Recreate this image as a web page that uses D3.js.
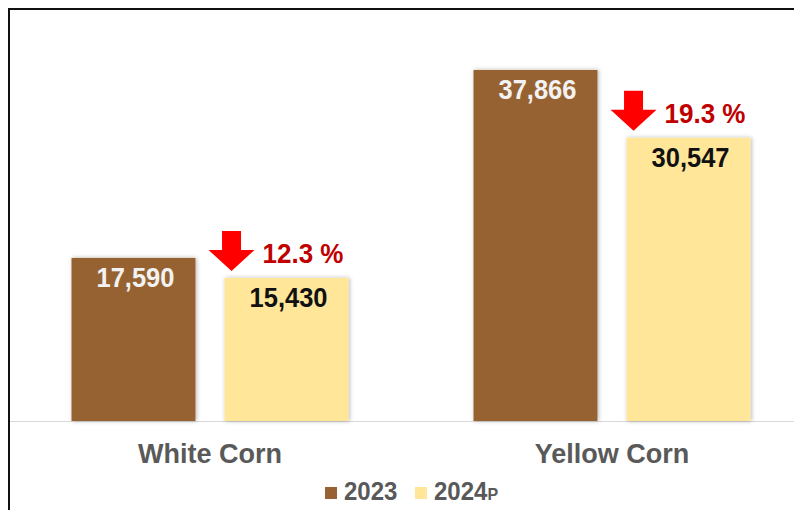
<!doctype html>
<html>
<head>
<meta charset="utf-8">
<script src="https://d3js.org/d3.v7.min.js"></script>
<style>
  body { margin: 0; background: #fff; }
  text { font-family: "Liberation Sans", Arial, sans-serif; font-weight: bold; }
</style>
</head>
<body>
<svg width="794" height="510"></svg>
<script>
var categories = ["White Corn", "Yellow Corn"];
var series = ["2023", "2024"];
var values2023 = [17590, 37866];
var values2024 = [15430, 30547];
var changeLabels = ["12.3 %", "19.3 %"];

var svg = d3.select("svg");
var colors = { "2023": "#976233", "2024": "#ffe699" };

var defs = svg.append("defs");
var f = defs.append("filter").attr("id", "shadow")
  .attr("x", "-10%").attr("y", "-10%").attr("width", "120%").attr("height", "120%");
f.append("feDropShadow").attr("dx", 1).attr("dy", 0).attr("stdDeviation", 2)
  .attr("flood-color", "#000").attr("flood-opacity", 0.3);

// frame
svg.append("rect").attr("x", 9).attr("y", 9).attr("width", 900).attr("height", 600)
  .attr("fill", "none").attr("stroke", "#111").attr("stroke-width", 2);

var x0 = d3.scaleBand().domain(categories).range([9, 813])
  .paddingInner(0.311).paddingOuter(0.1555);
var x1 = d3.scaleBand().domain(series).range([0, x0.bandwidth()]).paddingInner(0.19);
var y = d3.scaleLinear().domain([0, 40000]).range([421, 50.2]);

var rows = categories.map(function (c, i) {
  return { cat: c, vals: [{ s: "2023", v: values2023[i] }, { s: "2024", v: values2024[i] }], change: changeLabels[i] };
});

// stretched text helper (reference text is a bit taller than normal)
function stretched(sel, x, y, sx, sy) {
  return sel.append("g").attr("transform", "translate(" + x + "," + y + ") scale(" + sx + "," + sy + ")")
    .append("text").attr("x", 0).attr("y", 0);
}

// axis line
svg.append("line").attr("x1", 10).attr("x2", 794).attr("y1", y(0) + 0.5).attr("y2", y(0) + 0.5)
  .attr("stroke", "#d9d9d9").attr("stroke-width", 1);

var groups = svg.selectAll("g.cat").data(rows).enter().append("g")
  .attr("class", "cat")
  .attr("transform", function (d) { return "translate(" + x0(d.cat) + ",0)"; });

groups.selectAll("rect").data(function (d) { return d.vals; }).enter().append("rect")
  .attr("x", function (d) { return x1(d.s); })
  .attr("y", function (d) { return y(d.v); })
  .attr("width", x1.bandwidth())
  .attr("height", function (d) { return y(0) - y(d.v); })
  .attr("fill", function (d) { return colors[d.s]; })
  .attr("filter", "url(#shadow)");

groups.each(function (d) {
  var g = d3.select(this);
  d.vals.forEach(function (v) {
    stretched(g, x1(v.s) + x1.bandwidth() / 2 + 2, y(v.v) + 29, 1.02, 1.1)
      .attr("text-anchor", "middle")
      .style("font-size", "25px")
      .style("fill", v.s === "2023" ? "#f2f2f2" : "#111")
      .text(d3.format(",")(v.v));
  });

  // arrow + change label
  var L = x1("2024"), T = y(d.vals[1].v);
  var cx = L + 7, tip = T - 7, top = tip - 40, headY = tip - 21, hw = 23, sw = 9.5;
  var pts = [[cx - sw, top], [cx + sw, top], [cx + sw, headY], [cx + hw, headY], [cx, tip],
             [cx - hw, headY], [cx - sw, headY]];
  g.append("path").attr("d", d3.line()(pts) + "Z").attr("fill", "#ff0000");
  stretched(g, cx + hw + 8, top + 32, 1.0, 1.06)
    .style("font-size", "26px").style("fill", "#c00000").text(d.change);
});

// category labels
categories.forEach(function (c) {
  stretched(svg, x0(c) + x0.bandwidth() / 2, 463, 1.04, 1.07)
    .attr("text-anchor", "middle")
    .style("font-size", "26px").style("fill", "#595959")
    .text(c);
});

// legend
var legend = svg.append("g");
var lx = [325, 415];
series.forEach(function (s, i) {
  legend.append("rect").attr("x", lx[i]).attr("y", 487).attr("width", 12).attr("height", 12)
    .attr("fill", colors[s]);
  var t = stretched(legend, lx[i] + 19, 500, 1.0, 1.06)
    .style("font-size", "24px").style("fill", "#595959").text(s);
  if (s === "2024") t.append("tspan").style("font-size", "16px").text("P");
});
</script>
</body>
</html>
